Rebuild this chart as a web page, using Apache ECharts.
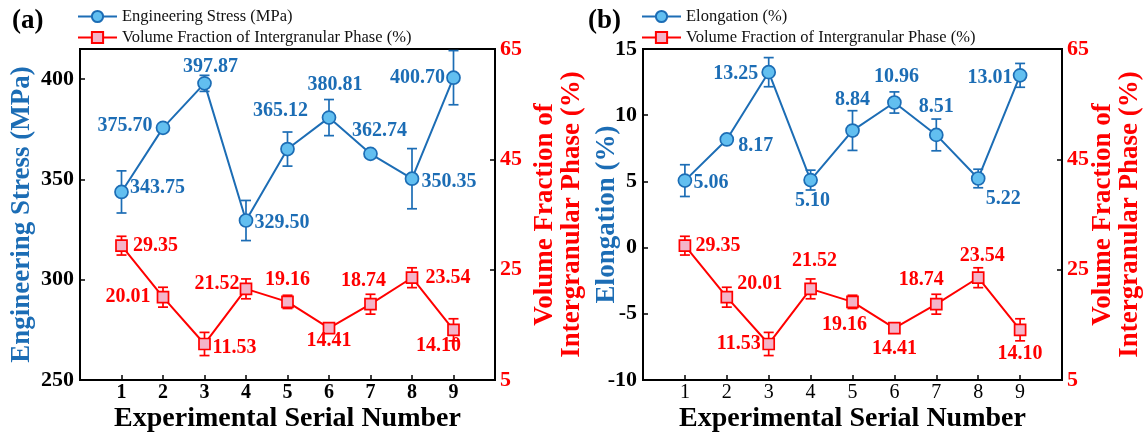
<!DOCTYPE html>
<html>
<head>
<meta charset="utf-8">
<script src="https://cdn.jsdelivr.net/npm/echarts@6/dist/echarts.min.js"></script>
<style>
  html, body { margin: 0; padding: 0; background: #fff; }
  #chart { width: 1148px; height: 438px; }
</style>
</head>
<body>
<div id="chart"></div>
<script>
// data
const serialNo = [1, 2, 3, 4, 5, 6, 7, 8, 9];
const stress = [343.75, 375.70, 397.87, 329.50, 365.12, 380.81, 362.74, 350.35, 400.70];
const stressErr = [10.5, 1, 4, 10, 8.5, 9, 1.5, 15, 13.5];
const elongation = [5.06, 8.17, 13.25, 5.10, 8.84, 10.96, 8.51, 5.22, 13.01];
const elongationErr = [1.2, 0.2, 1.1, 0.75, 1.5, 0.8, 1.2, 0.7, 0.9];
const phaseFraction = [29.35, 20.01, 11.53, 21.52, 19.16, 14.41, 18.74, 23.54, 14.10];
const phaseErr = [1.7, 1.8, 2.1, 1.8, 1.2, 0.8, 1.8, 1.8, 2.0];

// label placement (px offset from the marker), layout only
const stressLabelOff = [[36, -4], [-38, -2], [6, -17], [36, 2], [-7, -38], [6, -33], [9, -23], [37, 3], [-36, 0]];
const phaseLabelOffA = [[34, 0], [-35, 0], [30, 4], [-29, -5], [0, -22], [0, 13], [-7, -23], [36, 0], [-15, 16]];
const elongLabelOff = [[26, 2], [29, 6], [-33, 2], [2, 21], [0, -31], [2, -26], [0, -28], [25, 20], [-30, 2]];
const phaseLabelOffB = [[33, 0], [33, -13], [-30, 0], [4, -28], [-8, 23], [0, 21], [-15, -24], [4, -22], [0, 24]];

const FONT = 'Liberation Serif';
const BLUE = '#1c6db5';
const BLUE_FILL = '#62bff0';
const RED = '#ff0000';
const RED_FILL = '#f4b4c8';
const STRESS_NAME = 'Engineering Stress (MPa)';
const ELONG_NAME = 'Elongation (%)';
const PHASE_NAME = 'Volume Fraction of Intergranular Phase (%)';

function pointData(vals, offs) {
  return vals.map((v, i) => ({ value: [serialNo[i], v], label: { offset: offs[i] } }));
}
function errData(vals, errs) {
  return vals.map((v, i) => [serialNo[i], v - errs[i], v + errs[i]]);
}

function renderErrorBar(params, api) {
  const x = api.value(0);
  const lo = api.coord([x, api.value(1)]);
  const hi = api.coord([x, api.value(2)]);
  const half = 5;
  const style = { stroke: api.visual('color'), lineWidth: 1.7 };
  return {
    type: 'group',
    children: [
      { type: 'line', shape: { x1: lo[0], y1: lo[1], x2: hi[0], y2: hi[1] }, style: style },
      { type: 'line', shape: { x1: lo[0] - half, y1: lo[1], x2: lo[0] + half, y2: lo[1] }, style: style },
      { type: 'line', shape: { x1: hi[0] - half, y1: hi[1], x2: hi[0] + half, y2: hi[1] }, style: style }
    ]
  };
}

function lineSeries(name, vals, offs, xi, yi, isBlue) {
  return {
    name: name,
    type: 'line',
    xAxisIndex: xi,
    yAxisIndex: yi,
    z: 5,
    symbol: isBlue ? 'circle' : 'rect',
    symbolSize: isBlue ? 13 : 11,
    lineStyle: { color: isBlue ? BLUE : RED, width: 2 },
    itemStyle: { color: isBlue ? BLUE_FILL : RED_FILL, borderColor: isBlue ? BLUE : RED, borderWidth: 1.7 },
    label: {
      show: true,
      position: 'inside',
      formatter: p => p.value[1].toFixed(2),
      color: isBlue ? BLUE : RED,
      fontFamily: FONT,
      fontWeight: 'bold',
      fontSize: 20
    },
    emphasis: { disabled: true },
    data: pointData(vals, offs)
  };
}

function errSeries(vals, errs, xi, yi, color) {
  return {
    type: 'custom',
    xAxisIndex: xi,
    yAxisIndex: yi,
    z: 3,
    itemStyle: { color: color },
    renderItem: renderErrorBar,
    encode: { x: 0, y: [1, 2] },
    data: errData(vals, errs)
  };
}

function xAxis(gi, boldLabels) {
  return {
    type: 'value',
    gridIndex: gi,
    min: 0,
    max: 10,
    interval: 1,
    name: 'Experimental Serial Number',
    nameLocation: 'middle',
    nameGap: 25,
    nameMoveOverlap: false,
    nameTextStyle: { fontFamily: FONT, fontWeight: 'bold', fontSize: 28, color: '#000' },
    axisLine: { onZero: false, lineStyle: { color: '#000', width: 2 } },
    axisTick: { inside: true, length: 5, lineStyle: { color: '#000', width: 1.5 } },
    axisLabel: {
      margin: 3,
      fontFamily: FONT,
      fontWeight: boldLabels ? 'bold' : 'normal',
      fontSize: 20,
      color: '#000',
      formatter: v => (v >= 1 && v <= 9 ? String(v) : '')
    },
    splitLine: { show: false }
  };
}

function leftAxis(gi, name, min, max, interval, gap) {
  return {
    type: 'value',
    gridIndex: gi,
    position: 'left',
    min: min,
    max: max,
    interval: interval,
    name: name,
    nameLocation: 'middle',
    nameGap: gap,
    nameMoveOverlap: false,
    nameTextStyle: { fontFamily: FONT, fontWeight: 'bold', fontSize: 27, color: BLUE },
    axisLine: { show: true, onZero: false, lineStyle: { color: '#000', width: 2 } },
    axisTick: { inside: true, length: 5, lineStyle: { color: '#000', width: 1.5 } },
    axisLabel: {
      margin: 6,
      fontFamily: FONT,
      fontWeight: 'bold',
      fontSize: 22,
      color: '#000',
      formatter: v => ((v - min) % interval === 0 ? String(v) : '')
    },
    splitLine: { show: false }
  };
}

function rightAxis(gi, gap) {
  return {
    type: 'value',
    gridIndex: gi,
    position: 'right',
    min: 5,
    max: 65,
    interval: 20,
    name: 'Volume Fraction of\nIntergranular Phase (%)',
    nameLocation: 'middle',
    nameGap: gap,
    nameMoveOverlap: false,
    nameTextStyle: { fontFamily: FONT, fontWeight: 'bold', fontSize: 27, color: RED, lineHeight: 27 },
    axisLine: { show: true, onZero: false, lineStyle: { color: '#000', width: 2 } },
    axisTick: { inside: true, length: 5, lineStyle: { color: '#000', width: 1.5 } },
    axisLabel: { margin: 5, fontFamily: FONT, fontWeight: 'bold', fontSize: 22, color: RED },
    splitLine: { show: false }
  };
}

const legendText = { fontFamily: FONT, fontSize: 16.5, color: '#111' };

const option = {
  backgroundColor: '#fff',
  animation: false,
  grid: [
    { left: 80, top: 49, width: 415, height: 334, show: true, borderColor: '#000', borderWidth: 2 },
    { left: 643, top: 49, width: 419, height: 334, show: true, borderColor: '#000', borderWidth: 2 }
  ],
  legend: [
    {
      data: [STRESS_NAME, PHASE_NAME], orient: 'vertical', left: 72, top: 3,
      itemWidth: 39, itemHeight: 14, itemGap: 4, textStyle: legendText, selectedMode: false
    },
    {
      data: [ELONG_NAME, PHASE_NAME], orient: 'vertical', left: 636, top: 3,
      itemWidth: 39, itemHeight: 14, itemGap: 4, textStyle: legendText, selectedMode: false
    }
  ],
  graphic: [
    { type: 'text', left: 12, top: 8, style: { text: '(a)', font: 'bold 27px "Liberation Serif"', fill: '#000' } },
    { type: 'text', left: 588, top: 8, style: { text: '(b)', font: 'bold 27px "Liberation Serif"', fill: '#000' } }
  ],
  xAxis: [xAxis(0, true), xAxis(1, false)],
  yAxis: [
    leftAxis(0, STRESS_NAME, 250, 415, 50, 44),
    rightAxis(0, 37),
    leftAxis(1, ELONG_NAME, -10, 15, 5, 22),
    rightAxis(1, 28)
  ],
  series: [
    errSeries(stress, stressErr, 0, 0, BLUE),
    errSeries(phaseFraction, phaseErr, 0, 1, RED),
    lineSeries(STRESS_NAME, stress, stressLabelOff, 0, 0, true),
    lineSeries(PHASE_NAME, phaseFraction, phaseLabelOffA, 0, 1, false),
    errSeries(elongation, elongationErr, 1, 2, BLUE),
    errSeries(phaseFraction, phaseErr, 1, 3, RED),
    lineSeries(ELONG_NAME, elongation, elongLabelOff, 1, 2, true),
    lineSeries(PHASE_NAME, phaseFraction, phaseLabelOffB, 1, 3, false)
  ]
};

const chart = echarts.init(document.getElementById('chart'));
chart.setOption(option);
</script>
</body>
</html>
